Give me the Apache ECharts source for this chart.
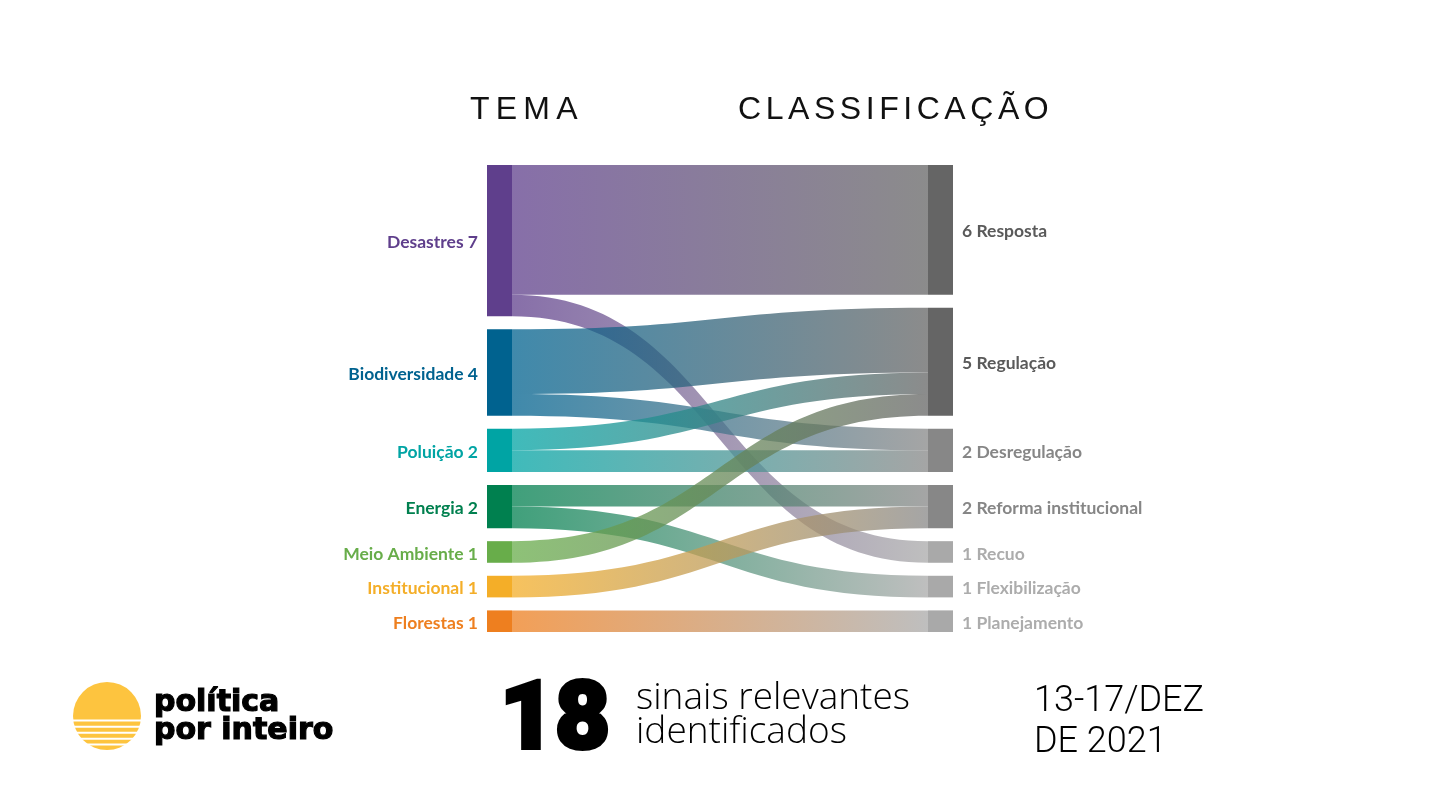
<!DOCTYPE html>
<html>
<head>
<meta charset="utf-8">
<script src="https://cdn.jsdelivr.net/npm/echarts@6/dist/echarts.min.js"></script>
<style>
  html, body { margin: 0; padding: 0; background: #ffffff; }
  #wrap { position: relative; width: 1440px; height: 810px; }
  #chart { position: absolute; left: 0; top: 0; width: 1440px; height: 810px; }
  .hdr { position: absolute; font-family: "Liberation Sans", Arial, sans-serif; font-size: 32px; line-height: 32px; color: #111; white-space: nowrap; }
</style>
</head>
<body>
<div id="wrap">
  <div id="chart"></div>
  <div class="hdr" id="h1" style="left:470px; top:92px; letter-spacing:6.2px;">TEMA</div>
  <div class="hdr" id="h2" style="left:738px; top:92px; letter-spacing:4.55px;">CLASSIFICAÇÃO</div>
</div>
<script>
// ---- data ----
const temas = ['Desastres', 'Biodiversidade', 'Poluição', 'Energia', 'Meio Ambiente', 'Institucional', 'Florestas'];
const classificacoes = ['Resposta', 'Regulação', 'Desregulação', 'Reforma institucional', 'Recuo', 'Flexibilização', 'Planejamento'];
const fontes = ['Desastres', 'Desastres', 'Biodiversidade', 'Biodiversidade', 'Poluição', 'Poluição', 'Energia', 'Energia', 'Meio Ambiente', 'Institucional', 'Florestas'];
const destinos = ['Resposta', 'Recuo', 'Regulação', 'Desregulação', 'Regulação', 'Desregulação', 'Reforma institucional', 'Flexibilização', 'Regulação', 'Reforma institucional', 'Planejamento'];
const valores = [6, 1, 3, 1, 1, 1, 1, 1, 1, 1, 1];
const totalSinais = '18';
const periodo = ['13-17/DEZ', 'DE 2021'];
const subtitulo = ['sinais relevantes', 'identificados'];
const marca = ['política', 'por inteiro'];

// ---- styles ----
const temaColors = ['#5f3f8c', '#00628f', '#00a4a4', '#00804f', '#68ad4a', '#f4ae28', '#ee7f1f'];
const classColors = ['#656565', '#656565', '#878787', '#878787', '#a9a9a9', '#a9a9a9', '#a9a9a9'];
const classLabelColors = ['#5a5a5a', '#5a5a5a', '#868686', '#868686', '#acacac', '#acacac', '#acacac'];

function total(name, arr) {
  let s = 0;
  for (let i = 0; i < valores.length; i++) if (arr[i] === name) s += valores[i];
  return s;
}

const labelFont = { fontFamily: 'Lato, "Noto Sans", sans-serif', fontWeight: 'bold', fontSize: 17.5, offset: [0, 2] };

const nodes = [];
temas.forEach((t, i) => {
  nodes.push({
    name: t,
    itemStyle: { color: temaColors[i], borderWidth: 0 },
    label: Object.assign({ position: 'left', distance: 9, color: temaColors[i], formatter: t + ' ' + total(t, fontes) }, labelFont)
  });
});
classificacoes.forEach((c, i) => {
  nodes.push({
    name: c,
    itemStyle: { color: classColors[i], borderWidth: 0 },
    label: Object.assign({ position: 'right', distance: 9, color: classLabelColors[i], formatter: total(c, destinos) + ' ' + c }, labelFont)
  });
});
const links = valores.map((v, i) => ({ source: fontes[i], target: destinos[i], value: v }));

// logo stripes (white gaps)
const stripeY = [719.5, 725.8, 731.8, 737.8, 743.6];

const txt = (x, y, text, font, strokeW) => ({
  type: 'text', x: x, y: y,
  style: Object.assign({ text: text, font: font, fill: '#000', verticalAlign: 'top', textVerticalAlign: 'top' },
    strokeW ? { stroke: '#000', lineWidth: strokeW } : {})
});

const graphics = [
  { type: 'circle', shape: { cx: 107, cy: 716, r: 34 }, style: { fill: '#fdc43f' } }
].concat(stripeY.map(y => ({ type: 'rect', shape: { x: 68, y: y, width: 80, height: 2 }, style: { fill: '#ffffff' } })))
.concat([
  txt(154, 688, marca[0], 'bold 30px "DejaVu Sans", sans-serif', 1.2),
  txt(154, 716, marca[1], 'bold 30px "DejaVu Sans", sans-serif', 1.2),
  txt(500, 677, totalSinais, '900 95px Roboto, sans-serif', 4),
  txt(636, 680, subtitulo[0], '300 37px "Open Sans", sans-serif'),
  txt(636, 714, subtitulo[1], '300 37px "Open Sans", sans-serif'),
  txt(1034, 684, periodo[0], '300 36px Roboto, sans-serif'),
  txt(1034, 725, periodo[1], '300 36px Roboto, sans-serif')
]);

const chart = echarts.init(document.getElementById('chart'), null, { renderer: 'canvas' });
chart.setOption({
  backgroundColor: '#ffffff',
  animation: false,
  series: [{
    type: 'sankey',
    left: 487, right: 487, top: 165, bottom: 178,
    nodeWidth: 25,
    nodeGap: 13,
    layoutIterations: 0,
    draggable: false,
    silent: true,
    data: nodes,
    links: links,
    lineStyle: { color: 'gradient', opacity: 0.75, curveness: 0.5 },
    emphasis: { disabled: true }
  }],
  graphic: { elements: graphics }
});
</script>
</body>
</html>
